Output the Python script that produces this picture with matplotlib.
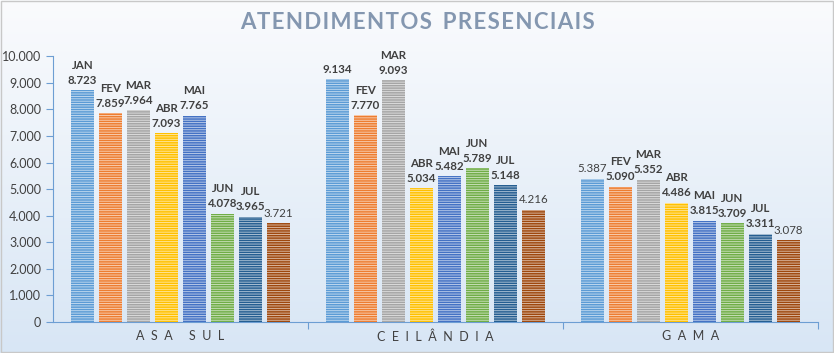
import numpy as np
import matplotlib.pyplot as plt
from matplotlib.colors import LinearSegmentedColormap

plt.rcParams['font.family'] = ['Lato', 'DejaVu Sans']

regioes = ['A  S  A     S  U  L', 'C  E  I  L  Â  N  D  I  A', 'G  A  M  A']
meses = ['JAN', 'FEV', 'MAR', 'ABR', 'MAI', 'JUN', 'JUL', 'AGO']
valores = {
    'JAN': [8723, 9134, 5387],
    'FEV': [7859, 7770, 5090],
    'MAR': [7964, 9093, 5352],
    'ABR': [7093, 5034, 4486],
    'MAI': [7765, 5482, 3815],
    'JUN': [4078, 5789, 3709],
    'JUL': [3965, 5148, 3311],
    'AGO': [3721, 4216, 3078],
}
# rotulo do mes mostrado acima do valor (vazio = so o numero)
rotulos = {
    'JAN': ['JAN', '', ''],
    'FEV': ['FEV', 'FEV', 'FEV'],
    'MAR': ['MAR', 'MAR', 'MAR'],
    'ABR': ['ABR', 'ABR', 'ABR'],
    'MAI': ['MAI', 'MAI', 'MAI'],
    'JUN': ['JUN', 'JUN', 'JUN'],
    'JUL': ['JUL', 'JUL', 'JUL'],
    'AGO': ['', '', ''],
}
cores = ['#5B9BD5', '#ED7D31', '#A5A5A5', '#FFC000', '#4472C4', '#70AD47', '#255E91', '#9E480E']

plt.rcParams['hatch.linewidth'] = 0.6

fig = plt.figure(figsize=(8.34, 3.53), dpi=100)

# fundo em degrade
bg = fig.add_axes([0, 0, 1, 1], zorder=-10)
grad = np.linspace(0, 1, 256).reshape(-1, 1)
cmap = LinearSegmentedColormap.from_list('bg', ['#fafbfd', '#d8e6f5'])
bg.imshow(grad, aspect='auto', cmap=cmap, extent=[0, 1, 0, 1], origin='upper')
bg.set_axis_off()
bg.add_patch(plt.Rectangle((0.001, 0.002), 0.998, 0.996, transform=bg.transAxes,
                           fill=False, edgecolor='#c8c8c8', lw=1))

ax = fig.add_axes([0.0636, 0.0878, 0.917, 0.753])
ax.patch.set_alpha(0)

x = np.arange(len(regioes))
passo = 0.11
largura = 0.09
for i, m in enumerate(meses):
    pos = x + (i - 3.5) * passo
    ax.bar(pos, valores[m], largura, color=cores[i], edgecolor='#ffffffb0',
           linewidth=0, hatch='-------', zorder=3)
    for j in range(len(regioes)):
        lab = rotulos[m][j]
        txt = f'{valores[m][j]:,}'.replace(',', '.')
        if lab:
            txt = lab + '\n' + txt
        peso = 'bold' if (lab or (m == 'JAN' and j == 1)) else 'normal'
        ax.text(pos[j], valores[m][j] + 170, txt, ha='center', va='bottom',
                fontsize=8.3, color='#404040', fontweight=peso, linespacing=1.45)

ax.set_xlim(-0.5, 2.5)
ax.set_ylim(0, 10000)
ax.set_yticks(np.arange(0, 10001, 1000))
ax.set_yticklabels([f'{v:,}'.replace(',', '.') for v in range(0, 10001, 1000)])
ax.set_xticks([0.5, 1.5, 2.5], minor=False)
ax.set_xticklabels([])
ax.set_xticks(x, minor=True)
ax.set_xticklabels(regioes, minor=True, fontsize=9, color='#404040')
ax.tick_params(axis='x', which='minor', length=0, pad=6)
ax.tick_params(axis='x', which='major', length=5, color='#6d9ed3')
ax.tick_params(axis='y', length=5, color='#6d9ed3', labelsize=9, labelcolor='#404040')
for s in ['top', 'right']:
    ax.spines[s].set_visible(False)
ax.spines['left'].set_color('#6d9ed3')
ax.spines['bottom'].set_color('#6d9ed3')

titulo = 'ATENDIMENTOS PRESENCIAIS'
fig.text(0.5, 0.935, '\u200a'.join(titulo).replace('\u200a \u200a', '  '),
         ha='center', va='center', fontsize=16, fontweight='bold', color='#8497B0')

fig.savefig('out.png', dpi=100)
